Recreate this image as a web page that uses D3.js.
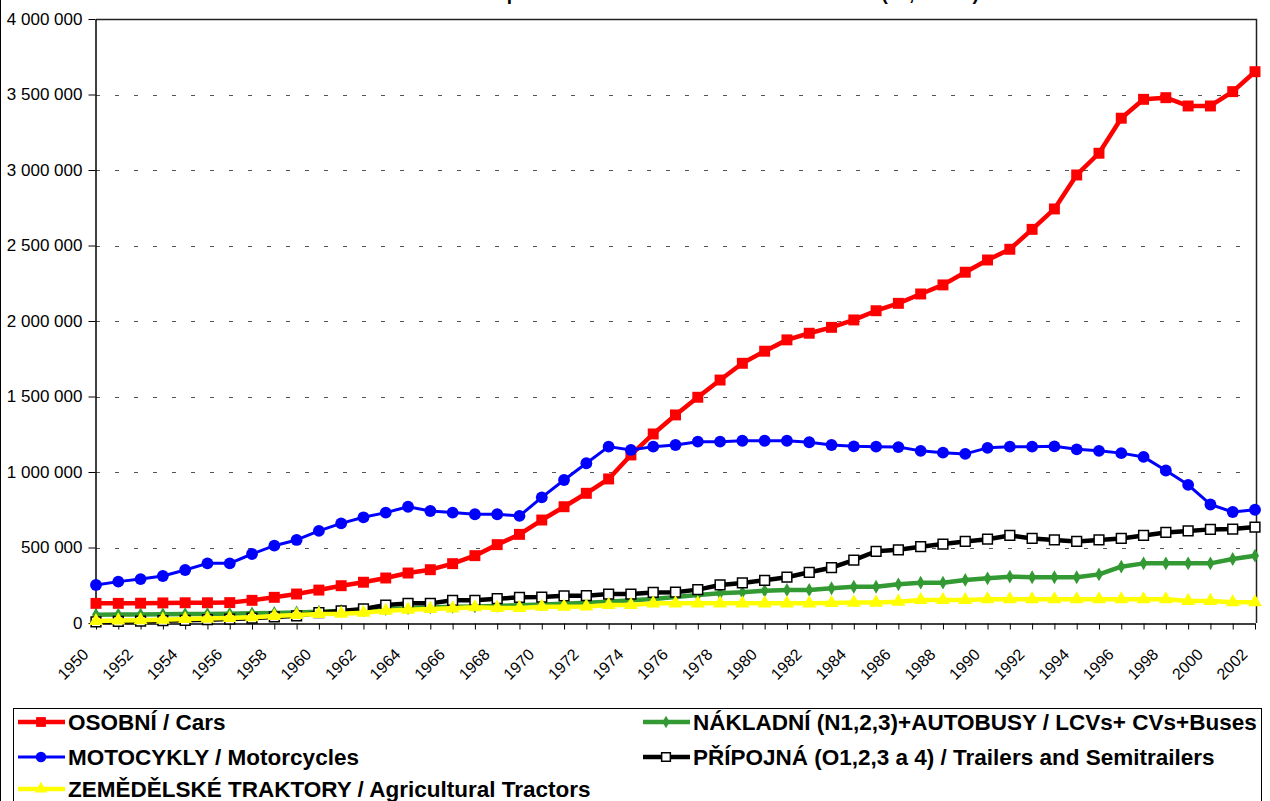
<!DOCTYPE html>
<html>
<head>
<meta charset="utf-8">
<script src="https://cdn.jsdelivr.net/npm/d3@7"></script>
<style>
  body { margin: 0; background: #fff; }
  text { font-family: Arial, "Liberation Sans", sans-serif; }
</style>
</head>
<body>
<div id="chart"></div>
<script>
var width = 1270;
var height = 801;

// categories
var years = [1950, 1951, 1952, 1953, 1954, 1955, 1956, 1957, 1958, 1959,
             1960, 1961, 1962, 1963, 1964, 1965, 1966, 1967, 1968, 1969,
             1970, 1971, 1972, 1973, 1974, 1975, 1976, 1977, 1978, 1979,
             1980, 1981, 1982, 1983, 1984, 1985, 1986, 1987, 1988, 1989,
             1990, 1991, 1992, 1993, 1994, 1995, 1996, 1997, 1998, 1999,
             2000, 2001, 2002];

// series values (pcs)
var cars = [130000, 130000, 131000, 133000, 134000, 134000, 135000, 150000, 170000, 192000,
            218000, 247000, 270000, 298000, 331000, 353000, 393000, 446000, 519000, 587000,
            682000, 770000, 859000, 954000, 1113000, 1252000, 1378000, 1495000, 1609000, 1720000,
            1800000, 1875000, 1919000, 1958000, 2007000, 2068000, 2117000, 2179000, 2239000, 2323000,
            2404000, 2475000, 2607000, 2742000, 2967000, 3111000, 3343000, 3468000, 3479000, 3424000,
            3424000, 3519000, 3651000];
var trucks = [55000, 56000, 57000, 58000, 59000, 60000, 62000, 64000, 67000, 70000,
              75000, 80000, 86000, 92000, 98000, 103000, 107000, 110000, 113000, 118000,
              123000, 128000, 134000, 141000, 150000, 159000, 172000, 185000, 197000, 203000,
              214000, 219000, 219000, 230000, 240000, 240000, 256000, 267000, 267000, 285000,
              296000, 307000, 303000, 303000, 303000, 322000, 373000, 395000, 395000, 395000,
              395000, 424000, 446000];
var motorcycles = [252000, 274000, 291000, 311000, 351000, 395000, 395000, 457000, 512000, 550000,
                   610000, 660000, 700000, 731000, 770000, 742000, 731000, 720000, 720000, 709000,
                   832000, 947000, 1058000, 1168000, 1146000, 1168000, 1179000, 1201000, 1201000, 1207000,
                   1207000, 1207000, 1197000, 1179000, 1170000, 1168000, 1165000, 1140000, 1128000, 1120000,
                   1160000, 1168000, 1168000, 1170000, 1150000, 1140000, 1125000, 1100000, 1010000, 915000,
                   785000, 735000, 750000];
var trailers = [8000, 10000, 12000, 15000, 18000, 22000, 26000, 32000, 40000, 48000,
                68000, 80000, 93000, 119000, 130000, 130000, 150000, 150000, 161000, 170000,
                172000, 180000, 181000, 192000, 192000, 202000, 204000, 221000, 252000, 265000,
                283000, 303000, 336000, 366000, 417000, 475000, 485000, 505000, 523000, 540000,
                555000, 580000, 560000, 550000, 540000, 550000, 560000, 580000, 600000, 610000,
                620000, 622000, 635000];
var tractors = [13000, 17000, 19000, 22000, 26000, 29000, 33000, 38000, 46000, 53000,
                60000, 62000, 68000, 81000, 88000, 93000, 97000, 104000, 100000, 100000,
                108000, 108000, 110000, 119000, 119000, 130000, 130000, 130000, 130000, 130000,
                130000, 130000, 130000, 132000, 135000, 135000, 141000, 152000, 152000, 152000,
                157000, 157000, 157000, 157000, 157000, 157000, 157000, 157000, 157000, 146000,
                146000, 137000, 137000];

// labels
var seriesNames = ["OSOBNÍ / Cars",
                   "NÁKLADNÍ (N1,2,3)+AUTOBUSY / LCVs+ CVs+Buses",
                   "MOTOCYKLY / Motorcycles",
                   "PŘÍPOJNÁ (O1,2,3 a 4) / Trailers and Semitrailers",
                   "ZEMĚDĚLSKÉ TRAKTORY / Agricultural Tractors"];
var yTicks = [0, 500000, 1000000, 1500000, 2000000, 2500000, 3000000, 3500000, 4000000];
var titleText = "Stav počtu silničních vozidel v ČR 1950 - 2002 (ks, 31.12.)";

var series = [
  { name: seriesNames[0], values: cars,        color: "#ff0000", width: 4.5, symbol: d3.symbolSquare,  size: 120, fill: "#ff0000", stroke: "none" },
  { name: seriesNames[1], values: trucks,      color: "#339933", width: 4.5, symbol: d3.symbolDiamond, size: 55,  fill: "#339933", stroke: "none" },
  { name: seriesNames[2], values: motorcycles, color: "#0000ff", width: 3,   symbol: d3.symbolCircle,  size: 110, fill: "#0000ff", stroke: "none" },
  { name: seriesNames[3], values: trailers,    color: "#000000", width: 4.5, symbol: d3.symbolSquare,  size: 95,  fill: "#ffffff", stroke: "#000000" },
  { name: seriesNames[4], values: tractors,    color: "#ffff00", width: 4.5, symbol: d3.symbolTriangle,size: 85,  fill: "#ffff00", stroke: "none" }
];

var plot = { left: 96, right: 1255, top: 19, bottom: 623 };

var svg = d3.select("#chart")
  .append("svg")
  .attr("width", width)
  .attr("height", height)
  .style("display", "block");

// outer chart border (only left edge visible)
svg.append("line")
  .attr("x1", 0.5).attr("x2", 0.5)
  .attr("y1", 0).attr("y2", height)
  .attr("stroke", "#000");

// title, cut off at the top like the original
svg.append("text")
  .attr("x", 720)
  .attr("y", 0)
  .attr("text-anchor", "middle")
  .style("font-size", "19px")
  .style("font-weight", "bold")
  .text(titleText);

var x = d3.scalePoint()
  .domain(years)
  .range([plot.left, plot.right]);

var y = d3.scaleLinear()
  .domain([0, 4000000])
  .range([plot.bottom, plot.top]);

// dashed gridlines
svg.append("g")
  .selectAll("line")
  .data(yTicks.filter(function(d) { return d > 0 && d < 4000000; }))
  .enter().append("line")
    .attr("x1", plot.left)
    .attr("x2", plot.right)
    .attr("y1", function(d) { return Math.round(y(d)) + 0.5; })
    .attr("y2", function(d) { return Math.round(y(d)) + 0.5; })
    .attr("stroke", "#555")
    .attr("stroke-dasharray", "4,15");

// plot area top and right border
svg.append("path")
  .attr("d", "M" + plot.left + "," + (plot.top + 0.5) + "H" + (plot.right + 1.5) + "V" + plot.bottom)
  .attr("fill", "none")
  .attr("stroke", "#222")
  .attr("stroke-width", 1.5);

// y axis
var yAxis = svg.append("g")
  .attr("transform", "translate(" + (plot.left - 0.5) + ",0)")
  .call(d3.axisLeft(y)
    .tickValues(yTicks)
    .tickSize(7)
    .tickSizeOuter(0)
    .tickFormat(function(d) { return d3.format(",")(d).replace(/,/g, " "); }));
yAxis.select(".domain").attr("stroke", "#000").attr("stroke-width", 1.5);
yAxis.selectAll(".tick line").attr("stroke", "#000");
yAxis.selectAll(".tick text")
  .attr("x", -13)
  .style("font-size", "17px")
  .style("font-family", "Arial, 'Liberation Sans', sans-serif")
  .attr("fill", "#000");

// x axis
var xAxis = svg.append("g")
  .attr("transform", "translate(0," + (plot.bottom + 0.5) + ")")
  .call(d3.axisBottom(x)
    .tickSize(6)
    .tickSizeOuter(0)
    .tickFormat(function(d) { return d % 2 === 0 ? d : ""; }));
xAxis.select(".domain").attr("stroke", "#000").attr("stroke-width", 1.5);
xAxis.selectAll(".tick line").attr("stroke", "#000");
xAxis.selectAll(".tick text")
  .attr("x", 0).attr("y", 0).attr("dy", 0)
  .attr("text-anchor", "end")
  .attr("transform", "translate(-7,32) rotate(-45)")
  .style("font-size", "16px")
  .style("font-family", "Arial, 'Liberation Sans', sans-serif")
  .attr("fill", "#000");

// lines and markers
var line = d3.line()
  .x(function(d, i) { return x(years[i]); })
  .y(function(d) { return y(d); });

series.forEach(function(s) {
  var g = svg.append("g").attr("class", "series");
  g.append("path")
    .datum(s.values)
    .attr("d", line)
    .attr("fill", "none")
    .attr("stroke", s.color)
    .attr("stroke-width", s.width)
    .attr("stroke-linejoin", "round");
  g.selectAll("path.marker")
    .data(s.values)
    .enter().append("path")
      .attr("class", "marker")
      .attr("d", d3.symbol().type(s.symbol).size(s.size))
      .attr("transform", function(d, i) { return "translate(" + x(years[i]) + "," + y(d) + ")"; })
      .attr("fill", s.fill)
      .attr("stroke", s.stroke)
      .attr("stroke-width", 1.5);
});

// legend
var legend = svg.append("g");
legend.append("rect")
  .attr("x", 13.5).attr("y", 708.5)
  .attr("width", 1248).attr("height", 130)
  .attr("fill", "#fff")
  .attr("stroke", "#000");

var legendCols = [18, 643];
var legendRows = [722, 757, 789];

series.forEach(function(s, i) {
  var lx = legendCols[i % 2];
  var ly = legendRows[Math.floor(i / 2)];
  var item = legend.append("g").attr("transform", "translate(" + lx + "," + ly + ")");
  item.append("line")
    .attr("x1", 0).attr("x2", 47)
    .attr("y1", 0).attr("y2", 0)
    .attr("stroke", s.color)
    .attr("stroke-width", s.width);
  item.append("path")
    .attr("d", d3.symbol().type(s.symbol).size(s.size * 0.8))
    .attr("transform", "translate(23,0)")
    .attr("fill", s.fill)
    .attr("stroke", s.stroke)
    .attr("stroke-width", 1.5);
  item.append("text")
    .attr("x", 50)
    .attr("y", 8)
    .style("font-size", "22.5px")
    .style("font-weight", "bold")
    .text(s.name);
});
</script>
</body>
</html>
